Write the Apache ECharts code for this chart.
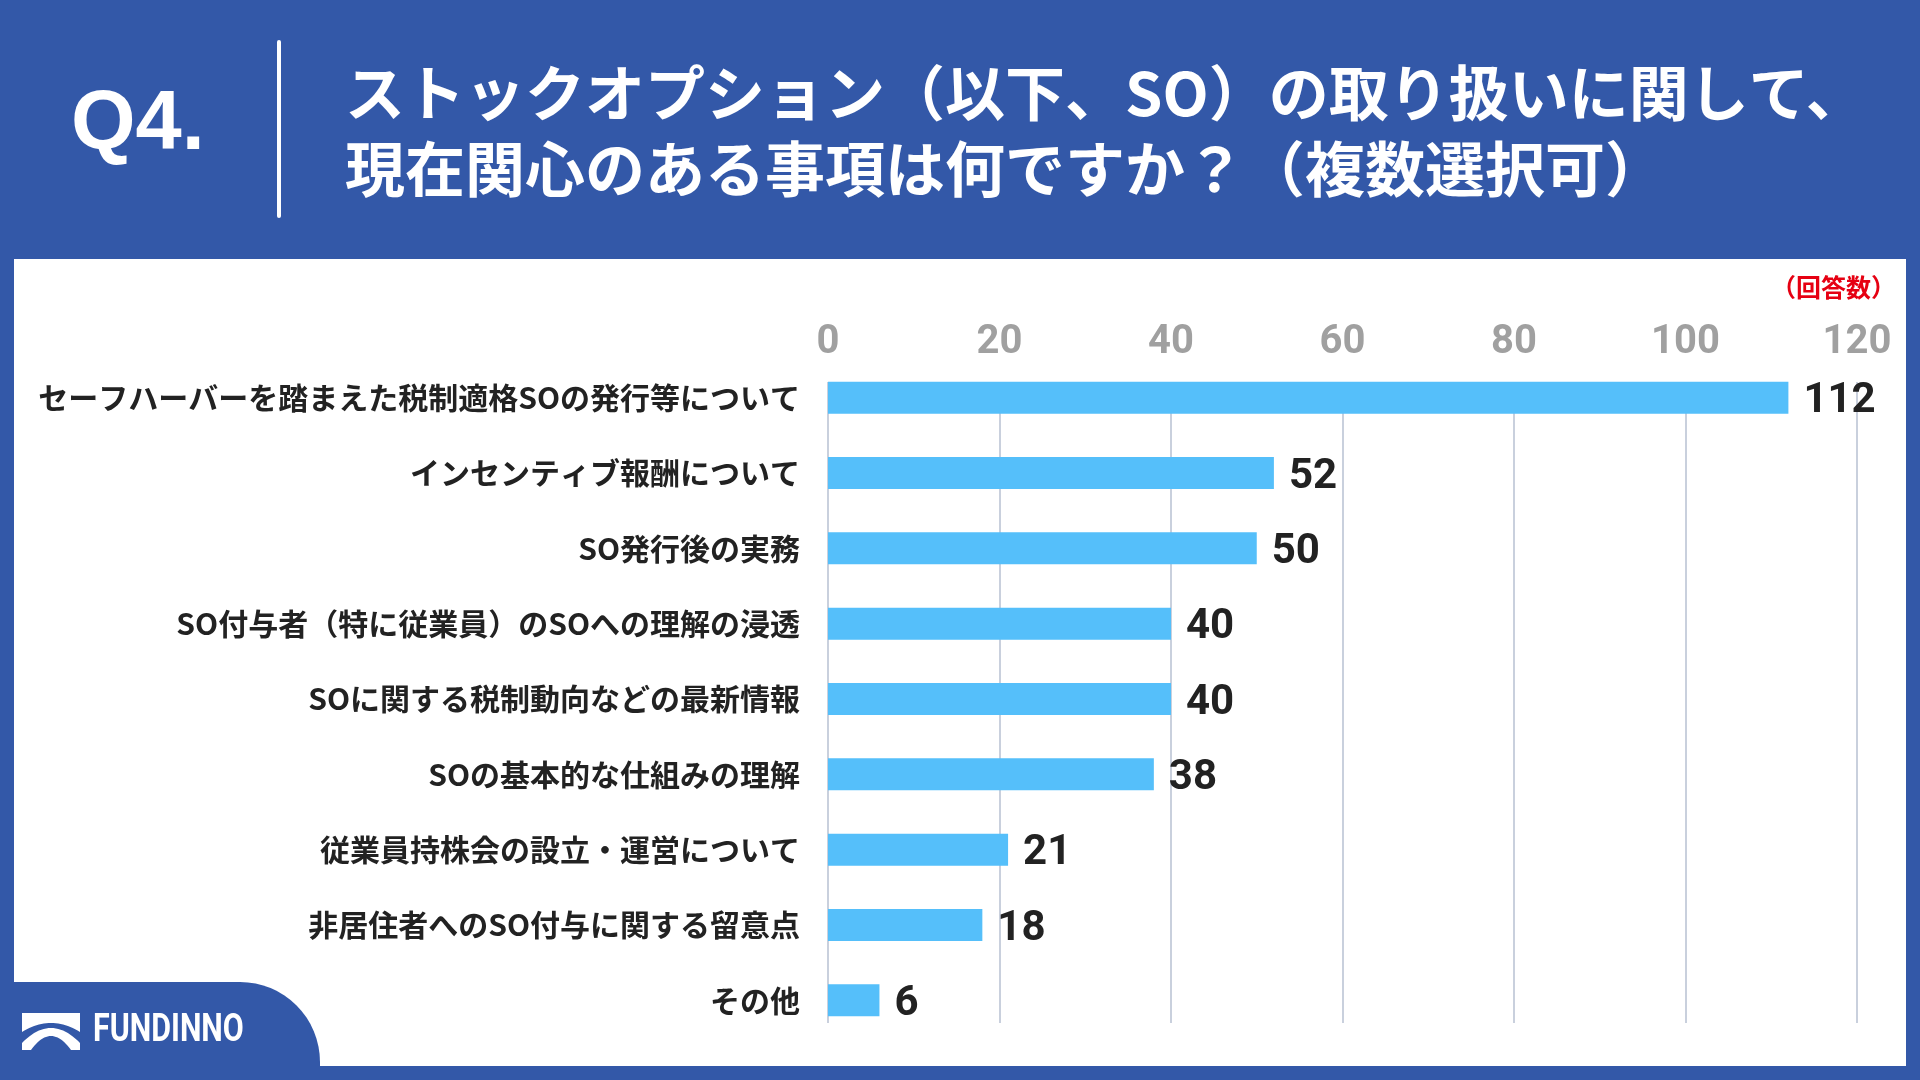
<!DOCTYPE html>
<html><head><meta charset="utf-8">
<script src="https://cdn.jsdelivr.net/npm/echarts@6/dist/echarts.min.js"></script>
<style>html,body{margin:0;padding:0;background:#3358a8}#c{width:1920px;height:1080px}</style>
</head><body><div id="c"></div>
<script>
const categories = [
  'セーフハーバーを踏まえた税制適格SOの発行等について',
  'インセンティブ報酬について',
  'SO発行後の実務',
  'SO付与者（特に従業員）のSOへの理解の浸透',
  'SOに関する税制動向などの最新情報',
  'SOの基本的な仕組みの理解',
  '従業員持株会の設立・運営について',
  '非居住者へのSO付与に関する留意点',
  'その他'
];
const values = [112, 52, 50, 40, 40, 38, 21, 18, 6];
const axisMin = 0, axisMax = 120, axisStep = 20;
const titleQ = 'Q4.';
const titleLines = ['ストックオプション（以下、SO）の取り扱いに関して、', '現在関心のある事項は何ですか？（複数選択可）'];
const unitLabel = '（回答数）';
const brand = 'FUNDINNO';

const BLUE = '#3358a8';
const JP = '"Noto Sans CJK JP", "Noto Sans", sans-serif';

// logo shape helpers (decoration only)
function quad(p0, c, p1, n) {
  const pts = [];
  for (let i = 0; i <= n; i++) {
    const t = i / n, u = 1 - t;
    pts.push([u*u*p0[0] + 2*u*t*c[0] + t*t*p1[0], u*u*p0[1] + 2*u*t*c[1] + t*t*p1[1]]);
  }
  return pts;
}
const iconTop = [[22, 1013], [80, 1013]].concat(quad([80, 1032], [51, 1014], [22, 1032], 24));
const iconArc = quad([22, 1043], [51, 1013], [80, 1043], 24).concat([[80, 1050], [71, 1050]]).concat(quad([71, 1050], [51, 1022], [31, 1050], 24)).concat([[22, 1050]]);

const chart = echarts.init(document.getElementById('c'), null, {renderer: 'canvas'});
chart.setOption({
  backgroundColor: BLUE,
  animation: false,
  grid: [
    {left: 828, right: 63, top: 360, bottom: 42},
    {left: 828, right: 63, top: 382, bottom: 57}
  ],
  xAxis: [
    {gridIndex: 0, type: 'value', min: axisMin, max: axisMax, interval: axisStep, show: false},
    {gridIndex: 1, type: 'value', min: axisMin, max: axisMax, interval: axisStep, position: 'top',
     axisLine: {show: false}, axisTick: {show: false},
     splitLine: {show: true, lineStyle: {color: '#c9d0dd', width: 2}},
     axisLabel: {fontSize: 40, fontWeight: 'bold', color: '#a0a0a0', margin: 19, fontFamily: 'Roboto'}}
  ],
  yAxis: [
    {gridIndex: 0, type: 'category', data: categories, inverse: true,
     axisLine: {show: false}, axisTick: {show: false},
     axisLabel: {fontSize: 30, fontWeight: 'bold', color: '#222', margin: 28, fontFamily: JP}},
    {gridIndex: 1, type: 'value', min: 0, max: 1, show: false}
  ],
  series: [{
    type: 'bar', xAxisIndex: 0, yAxisIndex: 0, data: values, barWidth: 32,
    itemStyle: {color: '#55bffa'},
    label: {show: true, position: 'right', distance: 15, offset: [0, 4], fontSize: 42, fontWeight: 'bold', color: '#222', fontFamily: 'Roboto'},
    z: 3
  }],
  graphic: [
    {type: 'rect', z: -1, shape: {x: 14, y: 259, width: 1892, height: 807}, style: {fill: '#fff'}},
    {type: 'rect', shape: {x: 277, y: 40, width: 4, height: 178, r: 2}, style: {fill: '#fff'}},
    {type: 'text', style: {text: titleQ, x: 71, y: 126, fill: '#fff', fontSize: 83, fontWeight: 'bold', fontFamily: '"Liberation Sans", Arial', verticalAlign: 'middle'}},
    {type: 'text', style: {text: titleLines[0], x: 345, y: 93, fill: '#fff', fontSize: 60, fontWeight: 'bold', fontFamily: JP, verticalAlign: 'middle'}},
    {type: 'text', style: {text: titleLines[1], x: 345, y: 169, fill: '#fff', fontSize: 60, fontWeight: 'bold', fontFamily: JP, verticalAlign: 'middle'}},
    {type: 'text', style: {text: unitLabel, x: 1896, y: 287, fill: '#e60012', fontSize: 25, fontWeight: 'bold', fontFamily: JP, align: 'right', verticalAlign: 'middle'}},
    {type: 'rect', z: 10, shape: {x: -60, y: 982, width: 380, height: 200, r: [0, 80, 0, 0]}, style: {fill: BLUE}},
    {type: 'polygon', z: 11, shape: {points: iconTop}, style: {fill: '#fff'}},
    {type: 'polygon', z: 11, shape: {points: iconArc}, style: {fill: '#fff'}},
    {type: 'text', z: 11, x: 93, y: 1031, scaleX: 0.78, style: {text: brand, x: 0, y: 0, fill: '#fff', fontSize: 39, fontWeight: 'bold', fontFamily: 'Roboto', verticalAlign: 'middle'}}
  ]
});
</script></body></html>
